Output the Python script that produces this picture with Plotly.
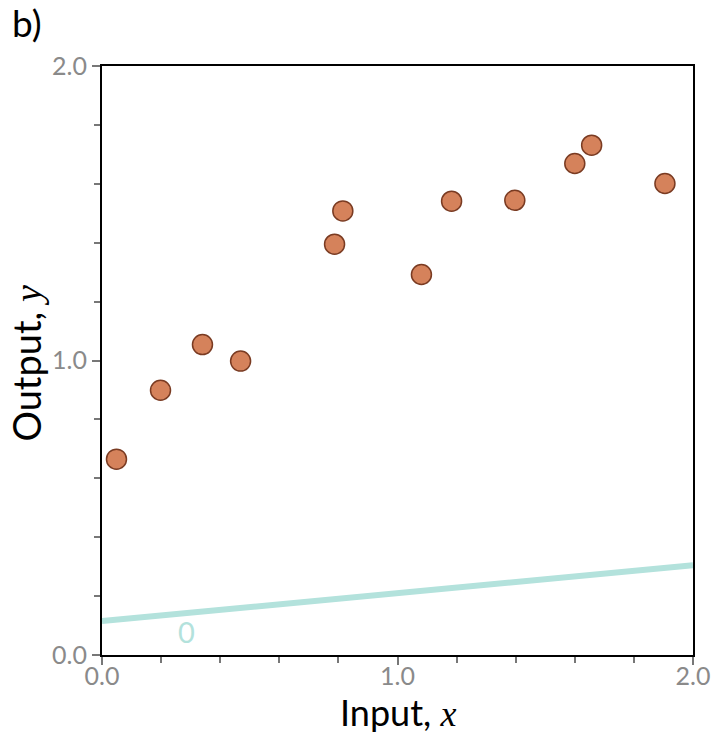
import plotly.graph_objects as go

# Data
x_vals = [0.049, 0.198, 0.340, 0.469, 0.787, 0.815, 1.081, 1.183, 1.397, 1.600, 1.657, 1.905]
y_vals = [0.665, 0.899, 1.054, 0.998, 1.395, 1.508, 1.292, 1.541, 1.544, 1.669, 1.731, 1.601]
line_x = [0.0, 2.0]
line_y = [0.115, 0.305]
line_label = "0"
tick_vals = [0.0, 1.0, 2.0]
tick_text = ["0.0", "1.0", "2.0"]
minor_vals = [0.2, 0.4, 0.6, 0.8, 1.2, 1.4, 1.6, 1.8]

FONT = "Lato"
TEAL = "#b3e2dc"
MATH = "font-family:Liberation Serif"

fig = go.Figure()
fig.add_trace(go.Scatter(x=line_x, y=line_y, mode="lines",
                         line=dict(color=TEAL, width=6), hoverinfo="skip", showlegend=False))
fig.add_trace(go.Scatter(x=x_vals, y=y_vals, mode="markers",
                         marker=dict(size=20, color="#d5825b",
                                     line=dict(color="#7a3b22", width=1.5)),
                         showlegend=False))

fig.add_annotation(x=0.285, y=0.079, text=line_label, showarrow=False,
                   font=dict(family=FONT, size=29, color=TEAL))
fig.add_annotation(x=0.0, y=1.0, xref="paper", yref="paper", xshift=-92, yshift=68,
                   xanchor="left", yanchor="top", text="b)", showarrow=False,
                   font=dict(family=FONT, size=37, color="black"))
# axis titles
fig.add_annotation(x=0.5, y=0.0, xref="paper", yref="paper", yshift=-57,
                   xanchor="center", yanchor="middle", showarrow=False,
                   text=f"Input, <i><span style='{MATH}'>x</span></i>",
                   font=dict(family=FONT, size=36, color="black"))
fig.add_annotation(x=0.0, y=0.495, xref="paper", yref="paper", xshift=-76,
                   xanchor="center", yanchor="middle", showarrow=False, textangle=-90,
                   text=f"Output, <i><span style='{MATH}'>y</span></i>",
                   font=dict(family=FONT, size=38, color="black"))

axis_common = dict(
    range=[0, 2], tickvals=tick_vals, ticktext=tick_text, automargin=False,
    showline=True, linecolor="black", linewidth=2, mirror=True,
    ticks="outside", ticklen=8, tickwidth=1.5, tickcolor="#777777",
    minor=dict(tickvals=minor_vals, ticks="outside",
               ticklen=6, tickwidth=1.5, tickcolor="#777777"),
    showgrid=False, zeroline=False, ticklabeloverflow="allow",
    tickfont=dict(family=FONT, size=25, color="#8a8a8a"),
)

fig.update_xaxes(**axis_common, ticklabelstandoff=-10)
fig.update_yaxes(**axis_common)

fig.update_layout(width=711, height=735, margin=dict(l=102, r=18, t=66, b=80),
                  plot_bgcolor="white", paper_bgcolor="white")

# remove the browser's default body margin so the figure fills the window exactly
fig.write_html("out.html", config={"displayModeBar": False},
               post_script="document.body.style.margin='0';")
